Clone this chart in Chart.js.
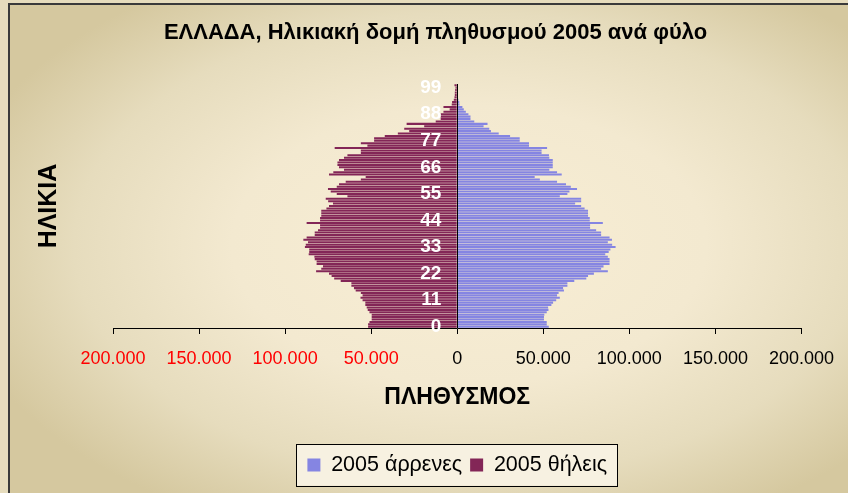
<!DOCTYPE html>
<html>
<head>
<meta charset="utf-8">
<script src="https://cdn.jsdelivr.net/npm/chart.js@4/dist/chart.umd.min.js"></script>
<style>
  html, body { margin: 0; padding: 0; }
  body { width: 848px; height: 493px; overflow: hidden; position: relative; background: #e6dcbd; }
  #frame {
    position: absolute; left: 8px; top: 3px; width: 850px; height: 500px;
    border-left: 2px solid #3a3a3a; border-top: 2px solid #3a3a3a;
    background: radial-gradient(ellipse 62% 62% at 54% 48%, #f8eed4 0%, #f3e9d0 45%, #e6dcbd 75%, #d5c89f 100%);
  }
  #wrap { position: absolute; left: 0; top: 0; width: 848px; height: 493px; }
</style>
</head>
<body>
<div id="frame"></div>
<div id="wrap"><canvas id="piramida" width="848" height="493"></canvas></div>
<script>
// ηλικίες 0..100
const ages = [];
for (let a = 0; a <= 100; a++) ages.push(String(a));

// 2005 άρρενες (ανά ηλικία, από 0)
const males = [
  53200, 52000, 52000, 50400, 50400, 50600, 52000, 53000, 52800, 54700,
  55700, 57500, 59600, 58000, 58900, 62000, 61500, 64000, 64000, 68000,
  75000, 76000, 79400, 87500, 83600, 85000, 88500, 88500, 88500, 87500,
  86000, 88000, 89000, 92000, 90000, 87500, 89900, 88500, 83600, 83600,
  80700, 77200, 77200, 84600, 77000, 77000, 76000, 76000, 76000, 74000,
  72000, 68500, 72000, 72000, 59600, 64000, 65200, 69600, 66000, 63200,
  58000, 48000, 45000, 60700, 58000, 53500, 55500, 55500, 55500, 55500,
  53500, 53300, 49000, 49000, 52200, 41700, 41700, 36300, 36300, 30700,
  24100, 19600, 18600, 15300, 17600, 9900, 7700, 7700, 6500, 5000,
  3800, 3000, 1300, 1200, 700, 400, 300, 300, 200, 200,
  300
];

// 2005 θήλεις (ανά ηλικία, από 0)
const females = [
  51800, 51800, 51000, 49700, 49700, 49700, 51000, 52000, 52600, 53400,
  53400, 55000, 56200, 55000, 56000, 59000, 60000, 61500, 61500, 67700,
  71500, 73000, 74500, 82000, 79000, 78000, 81700, 81700, 82800, 83000,
  86300, 86000, 86000, 88500, 88000, 86700, 89400, 87500, 82800, 82800,
  80900, 79700, 79700, 87500, 79700, 79700, 79000, 79000, 79000, 76000,
  74500, 72200, 75000, 76400, 63800, 70000, 73500, 75100, 70000, 68700,
  64800, 56000, 53200, 74500, 72000, 65800, 68700, 69600, 69600, 68700,
  65800, 63800, 56000, 56000, 71200, 52200, 56000, 48300, 48300, 42100,
  34500, 27900, 30800, 19200, 29400, 12500, 9600, 9600, 9600, 8000,
  4400, 8000, 3200, 3000, 2000, 1600, 1400, 1400, 1200, 1000,
  1600
];

const xTicks = [-200000, -150000, -100000, -50000, 0, 50000, 100000, 150000, 200000];

const FONT = "'Liberation Sans', Arial, sans-serif";

function fmt(v) {
  return String(Math.abs(v)).replace(/\B(?=(\d{3})+(?!\d))/g, '.');
}

// πλαίσιο γύρω από το υπόμνημα
const legendBox = {
  id: 'legendBox',
  beforeDraw(chart) {
    const lg = chart.legend;
    if (!lg || !lg.legendHitBoxes.length) return;
    const hb = lg.legendHitBoxes;
    const l = Math.min(...hb.map(h => h.left)) - 11;
    const r = Math.max(...hb.map(h => h.left + h.width)) + 10;
    const t = hb[0].top - 10;
    const b = hb[0].top + hb[0].height + 10;
    const c = chart.ctx;
    c.save();
    c.fillStyle = '#f7f1e1';
    c.fillRect(l, t, r - l, b - t);
    c.strokeStyle = '#000';
    c.lineWidth = 1;
    c.strokeRect(Math.round(l) + 0.5, Math.round(t) + 0.5, Math.round(r - l), Math.round(b - t));
    c.restore();
  }
};

const ctx = document.getElementById('piramida').getContext('2d');
const chart = new Chart(ctx, {
  type: 'bar',
  data: {
    labels: ages,
    datasets: [{
      label: '2005 άρρενες',
      data: males,
      backgroundColor: '#8585e2',
      borderWidth: 0,
      barPercentage: 0.85,
      categoryPercentage: 1
    }, {
      label: '2005 θήλεις',
      data: females.map(v => -v),
      backgroundColor: '#832657',
      borderWidth: 0,
      barPercentage: 0.85,
      categoryPercentage: 1
    }]
  },
  options: {
    indexAxis: 'y',
    responsive: false,
    animation: false,
    layout: { padding: { left: 23, right: 0, top: 0, bottom: 7.25 } },
    plugins: {
      title: {
        display: true,
        text: 'ΕΛΛΑΔΑ, Ηλικιακή δομή πληθυσμού 2005 ανά φύλο',
        color: '#000',
        font: { family: FONT, size: 22, weight: 'bold' },
        padding: { top: 19.8, bottom: 37.8 }
      },
      legend: {
        position: 'bottom',
        fullSize: false,
        labels: {
          color: '#000',
          font: { family: FONT, size: 21.5 },
          boxWidth: 13,
          boxHeight: 13,
          padding: 8
        }
      },
      tooltip: { enabled: false }
    },
    scales: {
      x: {
        type: 'linear',
        stacked: true,
        min: -200000,
        max: 200000,
        afterBuildTicks: s => { s.ticks = xTicks.map(v => ({ value: v })); },
        afterFit: s => { s.height = 118.25; },
        grid: {
          z: 1,
          drawOnChartArea: true,
          drawTicks: true,
          tickLength: 6,
          color: c => (c.tick && c.tick.value === 0) ? '#000' : 'rgba(0,0,0,0)',
          tickColor: '#000'
        },
        border: { display: true, color: '#000', width: 1, z: 1 },
        ticks: {
          padding: 14,
          font: { family: FONT, size: 18 },
          color: c => (c.tick && c.tick.value < 0) ? '#ff0000' : '#000',
          callback: v => fmt(v)
        },
        title: {
          display: true,
          text: 'ΠΛΗΘΥΣΜΟΣ',
          color: '#000',
          font: { family: FONT, size: 23, weight: 'bold' },
          padding: { top: 4, bottom: 34.7 }
        }
      },
      y: {
        type: 'category',
        position: { x: -9200 },
        reverse: true,
        stacked: true,
        grid: { display: false },
        border: { display: false },
        ticks: {
          z: 1,
          autoSkip: false,
          color: '#fff',
          font: { family: FONT, size: 19, weight: 'bold' },
          callback: function (v, i) { return i % 11 === 0 ? this.getLabelForValue(v) : ''; }
        }
      },
      yTitle: {
        type: 'category',
        position: 'left',
        afterFit: s => { s.width = 90; },
        grid: { display: false },
        border: { display: false },
        ticks: { display: false },
        title: {
          display: true,
          text: 'ΗΛΙΚΙΑ',
          color: '#000',
          font: { family: FONT, size: 25, weight: 'bold' },
          padding: { top: 11, bottom: 0 }
        }
      },
      ySpacer: {
        type: 'category',
        position: 'right',
        afterFit: s => { s.width = 46; },
        grid: { display: false },
        border: { display: false },
        ticks: { display: false }
      }
    }
  },
  plugins: [legendBox]
});
</script>
</body>
</html>
